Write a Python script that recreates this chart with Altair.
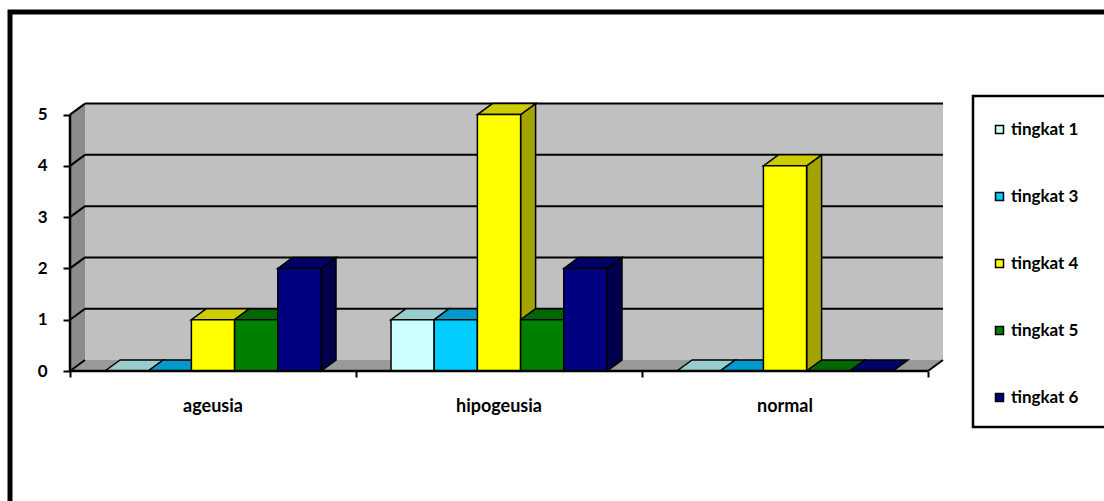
import altair as alt
import pandas as pd

# ---------------- data ----------------
categories = ["ageusia", "hipogeusia", "normal"]
series = ["tingkat 1", "tingkat 3", "tingkat 4", "tingkat 5", "tingkat 6"]
tingkat_1 = [0, 1, 0]
tingkat_3 = [0, 1, 0]
tingkat_4 = [1, 5, 4]
tingkat_5 = [1, 1, 0]
tingkat_6 = [2, 2, 0]
y_ticks = [0, 1, 2, 3, 4, 5]

front_colors = ["#CCFFFF", "#00CCFF", "#FFFF00", "#008000", "#000080"]
top_colors = ["#99CCCC", "#0099CC", "#CCCC00", "#006600", "#000066"]
side_colors = ["#7AA3A3", "#007AA3", "#A3A300", "#004D00", "#00004D"]

values = [tingkat_1, tingkat_3, tingkat_4, tingkat_5, tingkat_6]

# ---------------- layout constants ----------------
W, H = 1034, 359
PX_X = 286.0            # pixels per category
YMAX = 7.0
PX_Y = H / YMAX         # pixels per unit
XMAX = W / PX_X
DU = 15 / PX_X          # 3-D depth, x
DV = 11 / PX_Y          # 3-D depth, y
GAP = 0.1224
BW = (1 - 2 * GAP) / len(series)
NC = len(categories)
VTOP = max(y_ticks)

xs = alt.Scale(domain=[0, XMAX], nice=False, zero=False)
ys = alt.Scale(domain=[0, YMAX], nice=False, zero=False)

# ---------------- build tables ----------------
fronts, tops, sides = [], [], []
for ci, cat in enumerate(categories):
    for si, s in enumerate(series):
        v = values[si][ci]
        x0 = ci + GAP + si * BW
        x1 = x0 + BW
        bid = f"{ci}-{si}"
        tops.append({"id": bid, "col": top_colors[si], "y": v, "xa": x0, "xb": x1})
        tops.append({"id": bid, "col": top_colors[si], "y": v + DV, "xa": x0 + DU, "xb": x1 + DU})
        if v > 0:
            fronts.append({"series": s, "x0": x0, "x1": x1, "v": v, "base": 0})
            sides.append({"id": bid, "col": side_colors[si], "x": x1, "lo": 0, "hi": v})
            sides.append({"id": bid, "col": side_colors[si], "x": x1 + DU, "lo": DV, "hi": v + DV})

fronts = pd.DataFrame(fronts)
tops = pd.DataFrame(tops)
sides = pd.DataFrame(sides)

grid_rows = []
for v in y_ticks:
    if v > 0:
        grid_rows.append({"x": DU, "x2": NC + DU, "y": v + DV, "y2": v + DV})
    grid_rows.append({"x": 0, "x2": DU, "y": v, "y2": v + DV})
grid_rows.append({"x": NC, "x2": NC + DU, "y": 0, "y2": DV})
grid = pd.DataFrame(grid_rows)

one = pd.DataFrame({"k": [0]})

# ---------------- layers ----------------
frame = alt.Chart(one).mark_rect(fill="transparent", stroke="black", strokeWidth=5).encode(
    x=alt.value(-60), x2=alt.value(1100), y=alt.value(0), y2=alt.value(650)
)
legend_box = alt.Chart(one).mark_rect(fill="white", stroke="black", strokeWidth=2.5).encode(
    x=alt.value(903), x2=alt.value(1080), y=alt.value(84), y2=alt.value(415)
)

back_wall = alt.Chart(pd.DataFrame({"x0": [DU], "x1": [NC + DU], "y0": [DV], "y1": [VTOP + DV]})).mark_rect(
    fill="#C0C0C0"
).encode(
    x=alt.X("x0:Q", scale=xs), x2="x1:Q",
    y=alt.Y("y0:Q", scale=ys), y2="y1:Q",
)

side_wall = alt.Chart(pd.DataFrame({"x": [0, DU], "lo": [0, DV], "hi": [VTOP, VTOP + DV]})).mark_area(
    orient="vertical", fill="#8C8C8C"
).encode(
    x=alt.X("x:Q", scale=xs),
    y=alt.Y("hi:Q", scale=ys, stack=False), y2="lo:Q",
)

floor = alt.Chart(pd.DataFrame({"y": [0, DV], "xa": [0, DU], "xb": [NC, NC + DU]})).mark_area(
    orient="horizontal", fill="#9A9A9A"
).encode(
    y=alt.Y("y:Q", scale=ys),
    x=alt.X("xa:Q", scale=xs, stack=False), x2="xb:Q",
)

grid_lines = alt.Chart(grid).mark_rule(color="black", strokeWidth=2).encode(
    x=alt.X("x:Q", scale=xs), x2="x2:Q",
    y=alt.Y("y:Q", scale=ys), y2="y2:Q",
)

side_faces = alt.Chart(sides).mark_area(orient="vertical", stroke="black", strokeWidth=1.5).encode(
    x=alt.X("x:Q", scale=xs),
    y=alt.Y("hi:Q", scale=ys, stack=False), y2="lo:Q",
    detail="id:N",
    fill=alt.Fill("col:N", scale=None),
)

top_faces = alt.Chart(tops).mark_area(orient="horizontal", stroke="black", strokeWidth=1.5).encode(
    y=alt.Y("y:Q", scale=ys),
    x=alt.X("xa:Q", scale=xs, stack=False), x2="xb:Q",
    detail="id:N",
    fill=alt.Fill("col:N", scale=None),
)

front_faces = alt.Chart(fronts).mark_rect(stroke="black", strokeWidth=1.5).encode(
    x=alt.X("x0:Q", scale=xs), x2="x1:Q",
    y=alt.Y("v:Q", scale=ys), y2="base:Q",
    fill=alt.Fill(
        "series:N",
        scale=alt.Scale(domain=series, range=front_colors),
        legend=alt.Legend(
            title=None, orient="none", legendX=921, legendY=109,
            symbolType="square", symbolSize=64, symbolStrokeColor="black",
            symbolStrokeWidth=1.5, symbolOpacity=1,
            labelFont="Lato", labelFontWeight="bold", labelFontSize=17,
            labelColor="black", labelOffset=3, rowPadding=49, padding=0,
        ),
    ),
)

axes = alt.Chart(pd.DataFrame({"x": [0, 0], "x2": [0, NC], "y": [0, 0], "y2": [VTOP, 0]})).mark_rule(
    color="black", strokeWidth=2.5
).encode(
    x=alt.X("x:Q", scale=xs, title=None, axis=alt.Axis(
        values=list(range(NC + 1)), labels=False, ticks=True, tickSize=6, tickWidth=2,
        tickColor="black", domain=False, grid=False, title=None)),
    x2="x2:Q",
    y=alt.Y("y:Q", scale=ys, title=None, axis=alt.Axis(
        values=y_ticks, ticks=True, tickSize=7, tickWidth=2, tickColor="black",
        domain=False, grid=False, title=None, labelFont="Lato", labelFontWeight="bold",
        labelFontSize=17, labelColor="black", labelPadding=16)),
    y2="y2:Q",
)

cat_df = pd.DataFrame({"c": [i + 0.5 for i in range(NC)], "label": categories})
cat_labels = alt.Chart(cat_df).mark_text(
    font="Lato", fontWeight="bold", fontSize=18, color="black", baseline="middle"
).encode(
    x=alt.X("c:Q", scale=xs), y=alt.value(395), text="label:N"
)

chart = alt.layer(
    frame, legend_box, back_wall, side_wall, floor, grid_lines,
    side_faces, top_faces, front_faces, axes, cat_labels,
).properties(
    width=W, height=H,
    padding={"left": 70, "top": 12, "right": 0, "bottom": 130},
    autosize="none",
    background="white",
).configure_view(stroke=None).configure_axis(grid=False, domain=False, title=None)

chart.save("out.html", embed_options={"renderer": "svg", "actions": False})
